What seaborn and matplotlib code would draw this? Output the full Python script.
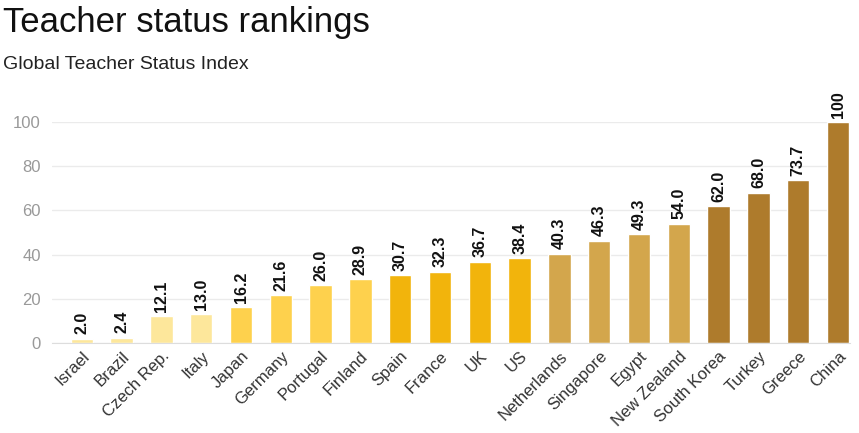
import pandas as pd
import seaborn as sns
import matplotlib.pyplot as plt

countries = ["Israel", "Brazil", "Czech Rep.", "Italy", "Japan", "Germany",
             "Portugal", "Finland", "Spain", "France", "UK", "US",
             "Netherlands", "Singapore", "Egypt", "New Zealand",
             "South Korea", "Turkey", "Greece", "China"]
index_values = [2.0, 2.4, 12.1, 13.0, 16.2, 21.6, 26.0, 28.9, 30.7, 32.3,
                36.7, 38.4, 40.3, 46.3, 49.3, 54.0, 62.0, 68.0, 73.7, 100]
value_labels = ["2.0", "2.4", "12.1", "13.0", "16.2", "21.6", "26.0", "28.9",
                "30.7", "32.3", "36.7", "38.4", "40.3", "46.3", "49.3", "54.0",
                "62.0", "68.0", "73.7", "100"]
# colour band of each bar
bands = [0, 0, 0, 0, 1, 1, 1, 1, 2, 2, 2, 2, 3, 3, 3, 3, 4, 4, 4, 4]
band_colors = ["#fde79b", "#fed14d", "#f2b40c", "#d3a64c", "#ae7b2c"]

df = pd.DataFrame({"country": countries, "value": index_values})

sns.set_style("white")
plt.rcParams["font.family"] = ["Liberation Sans", "DejaVu Sans"]

fig = plt.figure(figsize=(8.59, 4.33), dpi=100)
ax = fig.add_axes([0.0605, 0.208, 0.929, 0.5103])

sns.barplot(data=df, x="country", y="value", hue="country",
            palette=[band_colors[b] for b in bands], legend=False,
            width=0.56, saturation=1, ax=ax)

for i, (v, lab) in enumerate(zip(index_values, value_labels)):
    ax.text(i, v + 2, lab, rotation=90, ha="center", va="bottom",
            fontsize=11.5, fontweight="bold", color="#111111", clip_on=False)

ax.set_ylim(0, 100)
ax.set_xlim(-0.75, 19.3)
ax.set_yticks([0, 20, 40, 60, 80, 100])
ax.yaxis.grid(True, color="#ebebeb", linewidth=1)
ax.set_axisbelow(True)
ax.tick_params(axis="y", labelsize=12, labelcolor="#999999", length=0, pad=8)
ax.tick_params(axis="x", labelsize=12, labelcolor="#333333", length=0, pad=4)
plt.setp(ax.get_xticklabels(), rotation=45, ha="right", rotation_mode="anchor")
for s in ["top", "right", "left"]:
    ax.spines[s].set_visible(False)
ax.spines["bottom"].set_color("#dddddd")
ax.set_xlabel("")
ax.set_ylabel("")

fig.text(0.003, 0.985, "Teacher status rankings", fontsize=25,
         va="top", ha="left", color="#111111")
fig.text(0.003, 0.87, "Global Teacher Status Index", fontsize=14,
         va="top", ha="left", color="#222222")

plt.savefig("out.png", dpi=100)
